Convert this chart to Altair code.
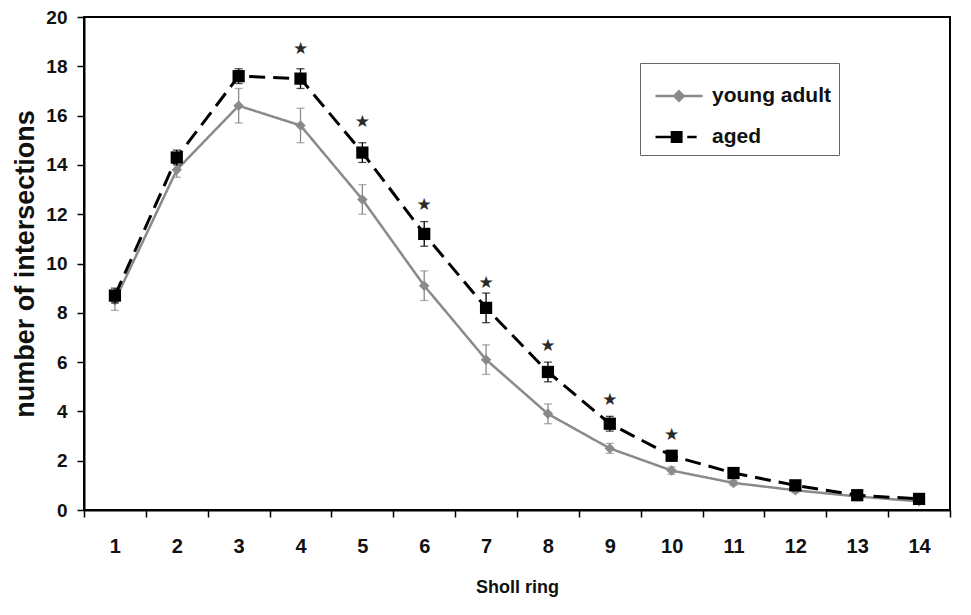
import altair as alt
import pandas as pd

rings = list(range(1, 15))
series_names = ["young adult", "aged"]
young_mean = [8.5, 13.8, 16.4, 15.6, 12.6, 9.1, 6.1, 3.9, 2.5, 1.6, 1.1, 0.8, 0.55, 0.35]
young_err = [0.4, 0.3, 0.7, 0.7, 0.6, 0.6, 0.6, 0.4, 0.2, 0.15, 0.1, 0.1, 0.08, 0.05]
aged_mean = [8.7, 14.3, 17.6, 17.5, 14.5, 11.2, 8.2, 5.6, 3.5, 2.2, 1.5, 1.0, 0.6, 0.45]
aged_err = [0.3, 0.3, 0.3, 0.4, 0.4, 0.5, 0.6, 0.4, 0.3, 0.2, 0.15, 0.1, 0.08, 0.06]
star_rings = [4, 5, 6, 7, 8, 9, 10]
star_y = [18.75, 15.8, 12.4, 9.25, 6.7, 4.5, 3.1]

GRAY = "#8a8a8a"
BLACK = "#000000"
FONT = "Liberation Sans"

rows = []
for s, means, errs in [("young adult", young_mean, young_err), ("aged", aged_mean, aged_err)]:
    for r, m, e in zip(rings, means, errs):
        rows.append({"ring": r, "series": s, "mean": m, "lo": m - e, "hi": m + e})
df = pd.DataFrame(rows)
stars = pd.DataFrame({"ring": star_rings, "y": star_y, "t": ["★"] * len(star_rings)})

xenc = alt.X(
    "ring:O",
    scale=alt.Scale(type="band", paddingInner=0, paddingOuter=0),
    axis=alt.Axis(
        title="Sholl ring", tickBand="extent", labelAngle=0, labelPadding=19,
        tickSize=7, tickWidth=1.5, tickColor=BLACK, domainColor=BLACK, domainWidth=2,
        labelFontSize=20, labelFontWeight="bold", titleFontSize=18, titleFontWeight="bold",
        titlePadding=22, labelColor="#111", titleColor="#111", labelFont=FONT, titleFont=FONT,
    ),
)
yscale = alt.Scale(domain=[0, 20], nice=False, zero=True)
yaxis = alt.Axis(
    title="number of intersections", values=list(range(0, 21, 2)), grid=False,
    tickSize=7, tickWidth=1.5, tickColor=BLACK, domainColor=BLACK, domainWidth=2,
    labelFontSize=19, labelFontWeight="bold", titleFontSize=27, titleFontWeight="bold",
    labelPadding=10, titlePadding=6, labelColor="#111", titleColor="#111",
    labelFont=FONT, titleFont=FONT,
)

base = alt.Chart(df)

def series_layers(name, color, dash, shape, size, width):
    d = base.transform_filter(alt.datum.series == name)
    line = d.mark_line(color=color, strokeWidth=width, strokeDash=dash).encode(
        x=xenc, y=alt.Y("mean:Q", scale=yscale, axis=yaxis)
    )
    err = d.mark_errorbar(ticks=alt.TickConfig(size=8, thickness=1.3, color=color), color=color, thickness=1.3).encode(
        x=xenc, y=alt.Y("lo:Q", scale=yscale, title="number of intersections"), y2="hi:Q"
    )
    pts = d.mark_point(shape=shape, filled=True, size=size, color=color, opacity=1).encode(
        x=xenc, y=alt.Y("mean:Q", scale=yscale)
    )
    return [line, err, pts]

layers = []
layers += series_layers("young adult", GRAY, [1, 0], "diamond", 110, 2.5)
layers += series_layers("aged", BLACK, [16, 8], "square", 150, 3)

star_layer = alt.Chart(stars).mark_text(
    fontSize=17, color="#2a2a2a", baseline="middle", dy=1, font="DejaVu Sans"
).encode(x=xenc, y=alt.Y("y:Q", scale=yscale), text="t:N")

legend_props = dict(
    title=None, orient="none", legendX=556, legendY=46, strokeColor="#666",
    padding=8, rowPadding=6, symbolSize=2209, symbolStrokeWidth=2.5,
    labelFontSize=21, labelFontWeight="bold", labelFont=FONT, labelColor="#111",
    labelOffset=8, fillColor="white", symbolOffset=6, symbolOpacity=1,
)
young_path = "M-1,0L1,0M0,-0.2L0.2,0L0,0.2L-0.2,0Z"
aged_path = ("M-1,0L-0.3,0M0.35,0L0.75,0"
             "M-0.3,-0.2L0.1,-0.2L0.1,0.2L-0.3,0.2Z")
legend_layer = base.transform_filter("false").mark_point(filled=True, opacity=1).encode(
    x=xenc,
    y=alt.Y("mean:Q", scale=yscale),
    fill=alt.Fill("series:N", scale=alt.Scale(domain=series_names, range=[GRAY, BLACK]), legend=alt.Legend(**legend_props)),
    stroke=alt.Stroke("series:N", scale=alt.Scale(domain=series_names, range=[GRAY, BLACK]), legend=alt.Legend(**legend_props)),
    shape=alt.Shape("series:N", scale=alt.Scale(domain=series_names, range=[young_path, aged_path]), legend=alt.Legend(**legend_props)),
)

chart = alt.layer(*layers, star_layer, legend_layer).properties(
    width=866, height=493,
    padding={"left": 3, "top": 0, "right": 5, "bottom": 5},
).configure_view(stroke=BLACK, strokeWidth=2)

chart.save("out.html", embed_options={"renderer": "svg", "actions": False})
